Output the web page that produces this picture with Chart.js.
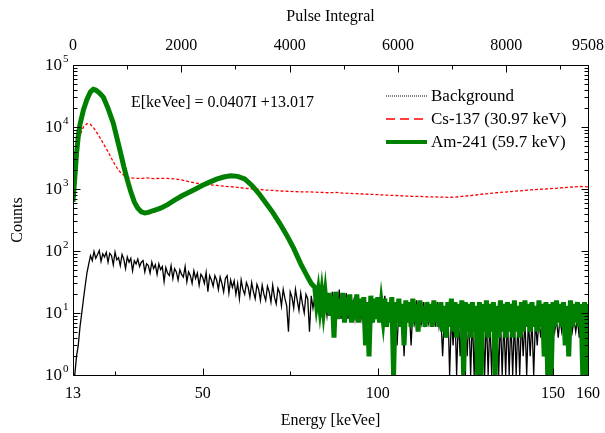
<!DOCTYPE html>
<html><head><meta charset="utf-8">
<script src="https://cdn.jsdelivr.net/npm/chart.js@4.4.1/dist/chart.umd.min.js"></script>
<style>html,body{margin:0;padding:0;background:#fff}#wrap{width:605px;height:433px}</style>
</head><body><div id="wrap"><canvas id="c" width="605" height="433"></canvas></div>
<script>
const energyTicks = [13, 50, 100, 150, 160];
const energyMinorTicks = [25, 75, 125];
const pulseTicks = [0, 2000, 4000, 6000, 8000, 9508];
const pulseMinorTicks = [1000, 3000, 5000, 7000, 9000];
const countExponents = [0, 1, 2, 3, 4, 5];
const seriesNames = ['Background', 'Cs-137 (30.97 keV)', 'Am-241 (59.7 keV)'];
const calibrationText = 'E[keVee] = 0.0407I +13.017';

// Background: channel grid starting at 13 keVee, 0.5 keVee apart
const bgStart = 13, bgStep = 0.5;
const bgCounts = [
 1,1,2,3,6,10,17,28,45,62,
 84,70,98,76,88,102,68,90,80,95,
 66,92,84,60,96,72,78,58,88,74,
 52,80,66,76,48,70,62,74,56,66,
 70,46,62,58,44,66,52,60,42,62,
 50,56,32,54,44,40,58,36,52,46,
 34,50,42,38,56,32,46,40,30,48,
 36,44,28,42,38,30,45,22,40,34,
 27,40,34,24,38,30,22,36,40,21,
 34,26,33,20,30,17,34,24,20,31,
 26,18,31,22,17,29,24,16,28,20,
 16,27,22,15,28,18,14,25,21,13,
 24,17,13,5,22,18,12,24,16,11,
 21,14,10,20,17,5,19,12,18,10,
 18,9,17,10,16,9,17,9,22,9,
 16,9,24,8,16,9,21,8,15,9,
 15,8,14,9,14,8,14,9,13,8,
 13,8,13,9,13,8,12,8,19,8,
 12,8,12,8,12,3,11,8,11,2,
 11,8,11,3,11,7,16,7,11,7,
 15,7,11,7,14,7,10,6,15,6,
 9,2,9,4,14,1,9,3,13,1,
 9,2,9,1,9,2,9,1,9,1,
 9,2,9,1,9,1,9,1,8,1,
 9,1,8,1,9,1,8,1,9,1,
 8,1,8,1,8,1,8,2,8,1,
 8,2,8,1,8,3,8,4,8,2,
 8,4,8,4,8,5,8,4,8,5,
 8,5,8,4,8,5,8,5,8,4,
 8,5,8,4,8
];

// Cs-137
const csEnergy = [13,14,15,16,17,18,19,20,21,22,23,24,25,26,27,28,29,30,
 32,34,36,38,40,42,44,46,48,50,52,54,56,58,60,62,64,66,68,70,72,74,76,78,80,
 82,84,86,88,90,92,94,96,98,100,102,104,106,108,110,112,114,116,118,120,
 122,124,126,128,130,132,134,136,138,140,142,144,146,148,150,152,154,156,158,160];
const csCounts = [2200,4500,7500,10000,11300,11000,9500,7800,6300,5000,4000,3100,2450,2000,1750,1600,1520,1500,
 1480,1510,1470,1490,1480,1460,1400,1320,1250,1200,
 1170,1140,1110,1090,1060,1030,1010,990,960,950,
 930,920,910,900,900,890,880,870,880,860,
 850,840,830,820,810,800,790,780,770,760,
 760,750,745,740,735,740,760,780,800,830,
 850,870,890,910,930,950,970,990,1000,1020,
 1040,1060,1080,1100,1080];

// Am-241: peak region, then noisy tail on a 0.5 keVee grid
const amPeakEnergy = [13,13.5,14,14.5,15,16,17,18,18.8,19.5,20.5,21.7,23,24.5,25.5,26.5,27.5,28.5,29.5,30.5,
 31.5,32.5,33.5,34.5,36,38,40,42,44,46,48,50,52,54,56,58,60,62,64,66,68,70,72,74,76,78,80,81];
const amPeakCounts = [620,1500,3700,7000,11000,19000,28000,37000,40500,39500,35500,30000,20000,11500,6800,4000,2300,1400,900,620,
 490,430,410,420,450,490,560,660,770,880,1000,1150,1290,1440,1560,1630,1600,1450,1150,850,600,420,280,180,110,62,38,30];
const amTailStart = 82, amTailStep = 0.5;
const amTailCounts = [
 26,14,22,12,21,11,20,10,21,9,
 19,4,22,8,17,9,21,7,18,9,
 20,7,16,8,20,7,17,9,18,3,
 15,2,19,7,17,8,18,7,14,8,
 17,6,15,7,18,1,15,7,17,6,
 14,3,16,7,15,6,17,7,14,5,
 16,7,13,6,15,7,14,6,16,7,
 14,6,15,5,13,4,15,6,17,5,
 15,4,14,6,16,1,15,5,14,4,
 15,5,13,1,15,1,14,5,16,4,
 14,5,15,1,13,4,16,5,14,4,
 15,5,14,4,16,5,13,4,15,5,
 16,6,14,5,15,6,13,5,16,6,
 14,2,15,1,14,1,15,6,16,7,
 14,6,15,3,13,2,16,6,14,7,
 15,6,14,1,15,1,14
];

const FONT = '"Liberation Serif", "Times New Roman", serif';
const GREEN = '#008000', RED = '#ff0000';

const bgData = bgCounts.map((c, i) => ({x: bgStart + i * bgStep, y: c}));
const csData = csEnergy.map((e, i) => ({x: e, y: csCounts[i]}));
const amData = amPeakEnergy.map((e, i) => ({x: e, y: amPeakCounts[i]}))
  .concat(amTailCounts.map((c, i) => ({x: amTailStart + i * amTailStep, y: c})));

const decor = {
  id: 'decor',
  afterDatasetsDraw(chart) {
    const {ctx, chartArea: a, scales} = chart;
    ctx.save();
    ctx.strokeStyle = '#000';
    ctx.lineWidth = 1;
    const L = Math.round(a.left) + 0.5, R = Math.round(a.right) + 0.5, T = Math.round(a.top) + 0.5, B = Math.round(a.bottom) + 0.5;
    ctx.beginPath();
    ctx.rect(L, T, R - L, B - T);
    ctx.stroke();
    const vline = (x, y0, y1) => { ctx.beginPath(); ctx.moveTo(x, y0); ctx.lineTo(x, y1); ctx.stroke(); };
    const hline = (y, x0, x1) => { ctx.beginPath(); ctx.moveTo(x0, y); ctx.lineTo(x1, y); ctx.stroke(); };
    energyTicks.forEach(v => { const x = Math.round(scales.x.getPixelForValue(v)) + 0.5; vline(x, B, B - 7); });
    energyMinorTicks.forEach(v => { const x = Math.round(scales.x.getPixelForValue(v)) + 0.5; vline(x, B, B - 4); });
    pulseTicks.forEach(v => { const x = Math.round(scales.x2.getPixelForValue(v)) + 0.5; vline(x, T, T + 7); });
    pulseMinorTicks.forEach(v => { const x = Math.round(scales.x2.getPixelForValue(v)) + 0.5; vline(x, T, T + 4); });
    countExponents.forEach(k => {
      const y = Math.round(scales.y.getPixelForValue(Math.pow(10, k))) + 0.5;
      hline(y, L, L + 7); hline(y, R, R - 7);
      if (k < 5) {
        for (let m = 2; m <= 9; m++) {
          const ym = Math.round(scales.y.getPixelForValue(m * Math.pow(10, k))) + 0.5;
          hline(ym, L, L + 4); hline(ym, R, R - 4);
        }
      }
    });
    ctx.restore();
  },
  afterDraw(chart) {
    const {ctx, chartArea: a, scales} = chart;
    ctx.save();
    ctx.fillStyle = '#000';
    countExponents.forEach(k => {
      const y = scales.y.getPixelForValue(Math.pow(10, k));
      ctx.font = '17px ' + FONT;
      ctx.textAlign = 'right'; ctx.textBaseline = 'middle';
      ctx.fillText('10', a.left - 11, y + 1);
      ctx.font = '11px ' + FONT;
      ctx.textAlign = 'left';
      ctx.fillText(String(k), a.left - 10, y - 6);
    });
    ctx.font = '16px ' + FONT;
    ctx.textAlign = 'left'; ctx.textBaseline = 'middle';
    ctx.fillText(calibrationText, 131, 103);
    const ds = chart.data.datasets;
    const rows = [96, 119, 142];
    ds.forEach((d, i) => {
      ctx.save();
      ctx.strokeStyle = d.borderColor;
      ctx.lineWidth = i === 2 ? 4 : (i === 0 ? 1 : 1.5);
      ctx.setLineDash(i === 0 ? [1, 1] : (i === 1 ? [9, 5] : []));
      ctx.beginPath(); ctx.moveTo(386, rows[i]); ctx.lineTo(427, rows[i]); ctx.stroke();
      ctx.restore();
      ctx.font = '17px ' + FONT;
      ctx.fillStyle = '#000';
      ctx.fillText(seriesNames[i], 431, rows[i] + 1);
    });
    ctx.restore();
  }
};

const tickFont = {family: FONT, size: 16};
const noSidePad = s => { s.paddingLeft = 0; s.paddingRight = 0; };
new Chart(document.getElementById('c'), {
  type: 'line',
  data: {
    datasets: [
      {label: seriesNames[0], data: bgData, borderColor: '#000', borderWidth: 1.3, order: 3, clip: 0, xAxisID: 'x', yAxisID: 'y'},
      {label: seriesNames[1], data: csData, borderColor: RED, borderWidth: 1.3, borderDash: [3, 2], order: 2, clip: 0, xAxisID: 'x', yAxisID: 'y'},
      {label: seriesNames[2], data: amData, borderColor: GREEN, borderWidth: 5, order: 1, clip: 0, xAxisID: 'x', yAxisID: 'y'}
    ]
  },
  options: {
    responsive: false, animation: false, devicePixelRatio: 1,
    layout: {padding: 0},
    elements: {point: {radius: 0}, line: {tension: 0, borderJoinStyle: 'miter'}},
    plugins: {legend: {display: false}, tooltip: {enabled: false}},
    scales: {
      x: {
        type: 'linear', position: 'bottom', min: 13, max: 160,
        afterBuildTicks: s => { s.ticks = energyTicks.map(v => ({value: v})); },
        afterFit: s => { s.height = 58; noSidePad(s); },
        grid: {display: false, drawTicks: false}, border: {display: false},
        ticks: {font: tickFont, color: '#000', padding: 9, maxRotation: 0, autoSkip: false, callback: v => String(v)},
        title: {display: true, text: 'Energy [keVee]', font: tickFont, color: '#000', padding: {top: 0, bottom: 3}}
      },
      x2: {
        type: 'linear', position: 'top', min: 0, max: 9508,
        afterBuildTicks: s => { s.ticks = pulseTicks.map(v => ({value: v})); },
        afterFit: s => { s.height = 65; noSidePad(s); },
        grid: {display: false, drawTicks: false}, border: {display: false},
        ticks: {font: tickFont, color: '#000', padding: 10, maxRotation: 0, autoSkip: false, callback: v => String(v)},
        title: {display: true, text: 'Pulse Integral', font: tickFont, color: '#000', padding: {top: 7, bottom: 0}}
      },
      y: {
        type: 'logarithmic', position: 'left', min: 1, max: 100000,
        afterFit: s => { s.width = 73; },
        grid: {display: false, drawTicks: false}, border: {display: false},
        ticks: {display: false},
        title: {display: true, text: 'Counts', font: tickFont, color: '#000', padding: {top: 8, bottom: 0}}
      },
      y2: {
        type: 'logarithmic', position: 'right', min: 1, max: 100000,
        afterFit: s => { s.width = 17; },
        grid: {display: false, drawTicks: false}, border: {display: false},
        ticks: {display: false}
      }
    }
  },
  plugins: [decor]
});
</script></body></html>
